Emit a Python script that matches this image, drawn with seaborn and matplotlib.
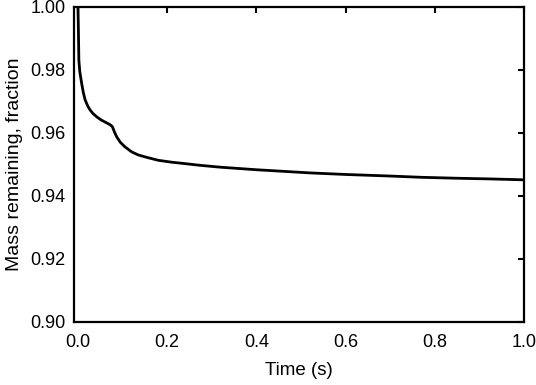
import matplotlib
matplotlib.use("Agg")
import matplotlib.pyplot as plt
import seaborn as sns
import pandas as pd

sns.set_theme(style="white")
plt.rcParams['font.family'] = ['Liberation Sans', 'DejaVu Sans']

time_s = [0.0, 0.001, 0.002, 0.004, 0.008, 0.012, 0.016, 0.022, 0.027, 0.034, 0.042,
          0.052, 0.064, 0.072, 0.077, 0.082, 0.087, 0.095, 0.105, 0.12, 0.135, 0.155,
          0.18, 0.21, 0.236, 0.274, 0.32, 0.4, 0.52, 0.6, 0.7, 0.77, 0.85, 0.92, 1.0]
mass_frac = [1.0, 0.992, 0.983, 0.9795, 0.9759, 0.9728, 0.9705, 0.9685, 0.9673, 0.9661, 0.9651,
             0.9641, 0.9632, 0.9626, 0.9620, 0.9602, 0.9587, 0.9570, 0.9556, 0.9540, 0.9530, 0.9522,
             0.9513, 0.9507, 0.9503, 0.9497, 0.9491, 0.9483, 0.9473, 0.9468, 0.9463, 0.9459, 0.9456, 0.9454, 0.9451]

df = pd.DataFrame({"time": time_s, "mass": mass_frac})

fig = plt.figure(figsize=(5.36, 3.85), dpi=100)
ax = fig.add_axes([0.138, 0.164, 0.84, 0.818])
sns.lineplot(data=df, x="time", y="mass", ax=ax, color="black", linewidth=2.0)

ax.set_xlim(-0.009, 1.0)
ax.set_ylim(0.90, 1.00)
ax.set_xticks([0.0, 0.2, 0.4, 0.6, 0.8, 1.0])
ax.set_xticklabels(["0.0", "0.2", "0.4", "0.6", "0.8", "1.0"])
ax.set_yticks([0.90, 0.92, 0.94, 0.96, 0.98, 1.00])
ax.set_yticklabels(["0.90", "0.92", "0.94", "0.96", "0.98", "1.00"])
ax.tick_params(direction="in", length=4, width=1.5, top=True, right=True,
               labelsize=13, colors="black")
ax.tick_params(axis="x", pad=9)
ax.tick_params(axis="y", pad=6)
for s in ax.spines.values():
    s.set_linewidth(1.6)
    s.set_color("black")
ax.set_xlabel("Time (s)", fontsize=13.5, color="black", labelpad=8)
ax.set_ylabel("Mass remaining, fraction", fontsize=14, color="black", labelpad=5)

fig.savefig("out.png", dpi=100)
